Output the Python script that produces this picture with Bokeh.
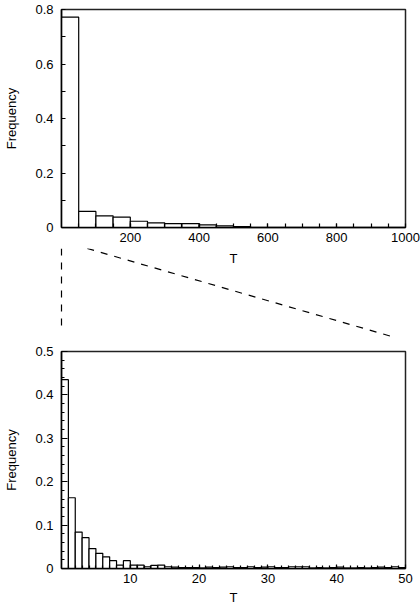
from bokeh.plotting import figure
from bokeh.layouts import column
from bokeh.models import Range1d, FixedTicker, Label
from bokeh.embed import file_html
from bokeh.resources import INLINE

# ---------------- data ----------------
x_label = "T"
y_label = "Frequency"

# top panel: histogram of T, bin width 50, range 0..1000
top_bin_width = 50
top_freq = [0.772, 0.059, 0.043, 0.038, 0.023, 0.017, 0.014, 0.014, 0.010, 0.006, 0.003]
top_x_range = [0, 1000]
top_y_range = [0, 0.8]
top_x_ticks = [200, 400, 600, 800, 1000]
top_y_ticks = [0, 0.2, 0.4, 0.6, 0.8]
top_y_minor = [0.1, 0.3, 0.5, 0.7]

# bottom panel: zoom on 0..50, bin width 1
bottom_bin_width = 1
bottom_freq = [0.435, 0.163, 0.084, 0.071, 0.046, 0.035, 0.027, 0.018, 0.008, 0.018,
               0.008, 0.008, 0.004, 0.007, 0.008, 0.004, 0.003, 0.002, 0.002, 0.002,
               0.001, 0.003, 0.002, 0.003, 0.004, 0.002, 0.002, 0.004, 0.002, 0.003,
               0.004, 0.002, 0.002, 0.004, 0.004, 0.004, 0.001, 0.002, 0.001, 0.002,
               0.003, 0.001, 0.001, 0.002, 0.001, 0.002, 0.003, 0.002, 0.004, 0.002]
bottom_x_range = [0, 50]
bottom_y_range = [0, 0.5]
bottom_x_ticks = [10, 20, 30, 40, 50]
bottom_y_ticks = [0, 0.1, 0.2, 0.3, 0.4, 0.5]

# zoom connector (dashed) in top-panel T units
conn_vertical_T = [0, 0]
conn_diag_T = [75, 970]

# ---------------- layout ----------------
W = 420
LEFT, RIGHT = 61, 15
FRAME_W = W - LEFT - RIGHT
H1, H2, H3 = 248, 95, 271
FONT = "Liberation Sans"
FS = "13px"


def style(p, xt, xminor, yt, yminor, y_maj_in, y_min_in, x_maj_in, x_min_in):
    p.grid.visible = False
    p.outline_line_color = "#222222"
    p.outline_line_width = 1.5
    p.background_fill_color = "white"
    p.border_fill_color = "white"
    p.xaxis.ticker = FixedTicker(ticks=xt, minor_ticks=xminor)
    p.yaxis.ticker = FixedTicker(ticks=yt, minor_ticks=yminor)
    for ax in (p.xaxis[0], p.yaxis[0]):
        ax.axis_line_width = 1.5
        ax.axis_line_color = "black"
        ax.major_tick_out = 0
        ax.minor_tick_out = 0
        ax.major_tick_line_color = "black"
        ax.minor_tick_line_color = "black"
        ax.major_tick_line_width = 1.2
        ax.minor_tick_line_width = 1.2
        ax.major_label_text_font = FONT
        ax.major_label_text_font_size = FS
        ax.major_label_text_color = "black"
        ax.axis_label_text_font = FONT
        ax.axis_label_text_font_size = FS
        ax.axis_label_text_font_style = "normal"
        ax.axis_label_text_color = "black"
    p.yaxis.major_tick_in = y_maj_in
    p.yaxis.minor_tick_in = y_min_in
    p.xaxis.major_tick_in = x_maj_in
    p.xaxis.minor_tick_in = x_min_in
    p.yaxis.major_label_standoff = 8
    p.yaxis.axis_label_standoff = 13
    p.xaxis.major_label_standoff = 5
    p.yaxis.major_label_overrides = {0: "0"}


# ---- top panel ----
p1 = figure(width=W, height=H1, output_backend="svg", toolbar_location=None,
            x_range=Range1d(*top_x_range), y_range=Range1d(*top_y_range),
            min_border_left=LEFT, min_border_right=RIGHT, min_border_top=9, min_border_bottom=21)
edges1 = [i * top_bin_width for i in range(len(top_freq) + 1)]
p1.quad(left=edges1[:-1], right=edges1[1:], bottom=0, top=top_freq,
        fill_color="white", line_color="black", line_width=1.2)
style(p1, top_x_ticks,
      [i * top_bin_width for i in range(1, top_x_range[1] // top_bin_width)],
      top_y_ticks, top_y_minor, 4, 4, 4, 4)
p1.yaxis.axis_label = y_label

# ---- connector panel (own frame = whole canvas) ----
scale = FRAME_W / (top_x_range[1] - top_x_range[0])
p2 = figure(width=W, height=H2, output_backend="svg", toolbar_location=None,
            x_range=Range1d(-LEFT / scale, (W - LEFT) / scale), y_range=Range1d(H2, 0),
            x_axis_type=None, y_axis_type=None,
            min_border_left=0, min_border_right=0, min_border_top=0, min_border_bottom=0)
p2.frame_align = False
p2.grid.visible = False
p2.outline_line_color = None
p2.background_fill_color = "white"
p2.border_fill_color = "white"
p2.line(conn_vertical_T, [0, 84], line_color="black", line_width=1.2, line_dash="7 7")
p2.line(conn_diag_T, [0, 89], line_color="black", line_width=1.2, line_dash="7 7")
p2.add_layout(Label(x=(top_x_range[0] + top_x_range[1]) / 2, y=10, text=x_label,
                    text_align="center", text_baseline="middle",
                    text_font=FONT, text_font_size=FS, text_color="black"))

# ---- bottom panel ----
p3 = figure(width=W, height=H3, output_backend="svg", toolbar_location=None,
            x_range=Range1d(*bottom_x_range), y_range=Range1d(*bottom_y_range),
            min_border_left=LEFT, min_border_right=RIGHT, min_border_top=8, min_border_bottom=46)
edges3 = [i * bottom_bin_width for i in range(len(bottom_freq) + 1)]
p3.quad(left=edges3[:-1], right=edges3[1:], bottom=0, top=bottom_freq,
        fill_color="white", line_color="black", line_width=1.2)
style(p3, bottom_x_ticks, list(range(1, bottom_x_range[1])),
      bottom_y_ticks, [round(0.02 * i, 2) for i in range(1, 25) if i % 5 != 0], 6, 3, 4, 3)
p3.xaxis.axis_label = x_label
p3.xaxis.axis_label_standoff = 4
p3.yaxis.axis_label = y_label

layout = column(p1, p2, p3, spacing=0)
open("out.html", "w").write(file_html(layout, INLINE))
